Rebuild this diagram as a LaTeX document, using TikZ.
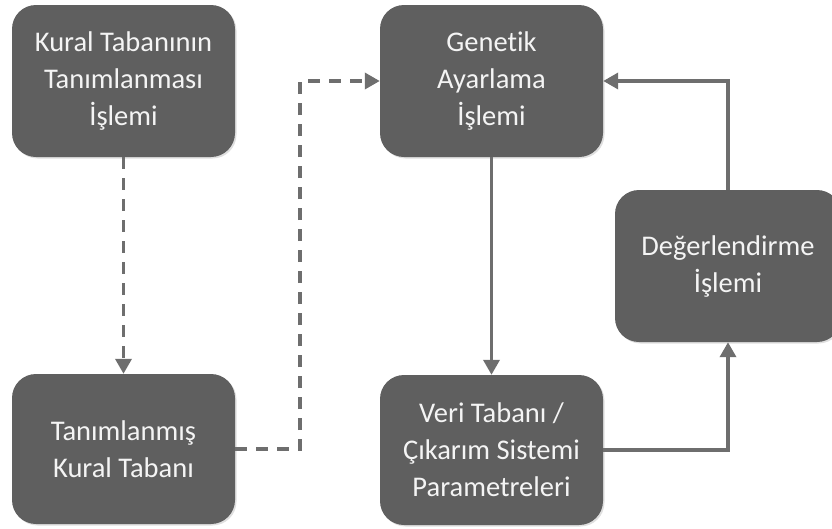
\documentclass[tikz,border=0pt]{standalone}
\usepackage{fontspec}
\setmainfont[Ligatures=CommonOff]{Carlito}
\usetikzlibrary{arrows.meta,shadows}
\definecolor{boxfill}{HTML}{5F5F5F}
\definecolor{linecol}{HTML}{6E6E6E}
\definecolor{txtcol}{HTML}{F4F4F4}
\tikzset{
  procbox/.style={draw=none, fill=boxfill, rounded corners=24pt,
    minimum width=223pt, minimum height=152pt, inner sep=0pt,
    align=center, text=txtcol,
    font=\fontsize{28.5}{37}\selectfont,
    drop shadow={opacity=0.25, shadow xshift=1.5pt, shadow yshift=-1.5pt}},
  conn/.style={draw=linecol, line width=3.5pt,
    -{Triangle[length=15pt,width=16pt]}},
  dconn/.style={conn, dash pattern=on 12pt off 9pt}
}
\begin{document}
\begin{tikzpicture}[x=1pt,y=-1pt]
\useasboundingbox (0,0) rectangle (832,528);
\begin{scope}
\clip (0,0) rectangle (832,528);
\node[procbox] (b1) at (123.5,81) {Kural Tabanının\\Tanımlanması\\İşlemi};
\node[procbox, minimum height=150pt] (b2) at (123.5,449) {Tanımlanmış\\Kural Tabanı};
\node[procbox] (b3) at (491.5,81) {Genetik\\Ayarlama\\İşlemi};
\node[procbox, minimum height=150pt] (b4) at (491.5,450) {Veri Tabanı /\\Çıkarım Sistemi\\Parametreleri};
\node[procbox, minimum width=226pt] (b5) at (728,266) {Değerlendirme\\İşlemi};
\end{scope}
\draw[dconn] (b1.south) -- (b2.north);
\draw[dconn] (b2.east) -- ++(65,0) |- (b3.west);
\draw[conn] (b3.south) -- (b4.north);
\draw[conn] (b4.east) -| (b5.south);
\draw[conn] (b5.north) |- (b3.east);
\end{tikzpicture}
\end{document}
